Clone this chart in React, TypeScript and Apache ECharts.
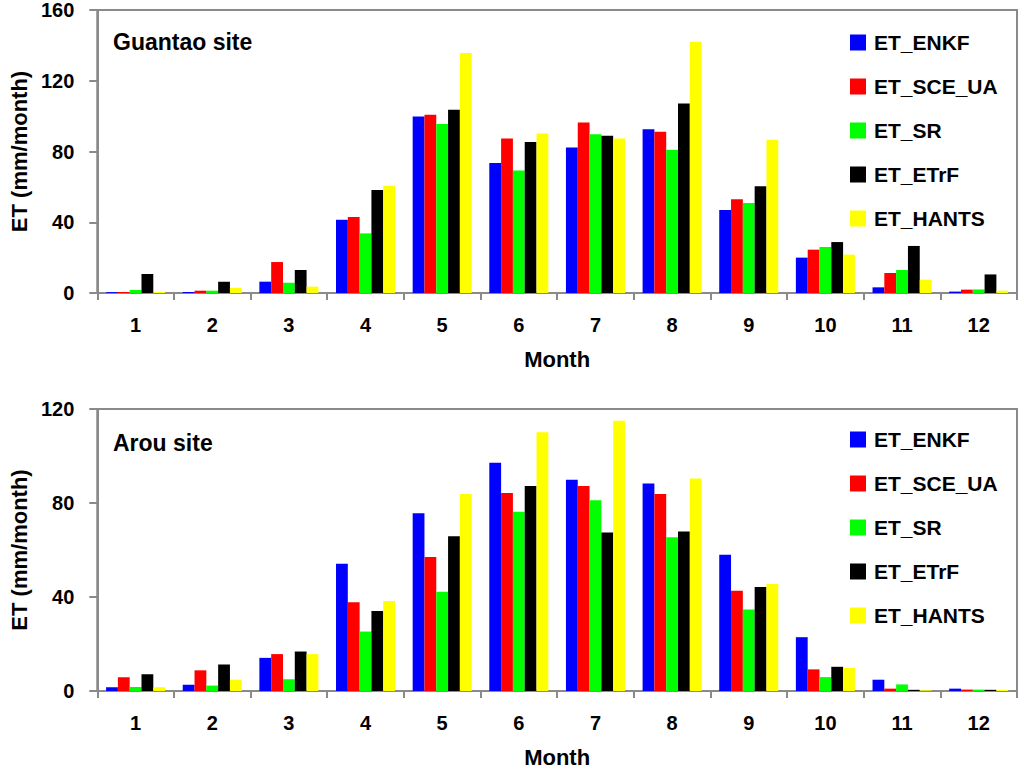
import React, { useEffect, useRef } from "react";
import * as echarts from "echarts";

const months = ["1", "2", "3", "4", "5", "6", "7", "8", "9", "10", "11", "12"];
const seriesNames = ["ET_ENKF", "ET_SCE_UA", "ET_SR", "ET_ETrF", "ET_HANTS"];
const seriesColors = ["#0000FF", "#FF0000", "#00FF00", "#000000", "#FFFF00"];

// Guantao site (mm/month)
const guantaoENKF = [0.5, 0.5, 6.4, 41.4, 99.8, 73.5, 82.3, 92.6, 46.9, 20, 3.2, 0.8];
const guantaoSCEUA = [0.5, 1.3, 17.5, 43, 100.8, 87.4, 96.4, 91.2, 53, 24.5, 11.3, 1.9];
const guantaoSR = [1.7, 1.3, 5.8, 33.7, 95.5, 69.3, 89.7, 81, 50.9, 26, 13, 2];
const guantaoETrF = [10.7, 6.4, 13, 58.2, 103.6, 85.4, 88.9, 107.2, 60.3, 28.8, 26.6, 10.5];
const guantaoHANTS = [0.5, 2.8, 3.6, 60.6, 135.7, 90.2, 87.4, 142, 86.7, 21.7, 7.5, 1.3];

// Arou site (mm/month)
const arouENKF = [1.6, 2.7, 14.1, 54.2, 75.6, 97.1, 89.9, 88.3, 58, 22.9, 4.8, 1];
const arouSCEUA = [5.9, 8.8, 15.7, 37.8, 57, 84.3, 87.2, 83.8, 42.7, 9.2, 1, 0.6];
const arouSR = [1.7, 2.3, 5, 25.3, 42.2, 76.3, 81.2, 65.4, 34.7, 5.9, 2.8, 0.6];
const arouETrF = [7.1, 11.3, 16.8, 34, 65.8, 87.2, 67.4, 67.9, 44.3, 10.3, 0.5, 0.5];
const arouHANTS = [1.6, 4.8, 15.7, 38.3, 83.8, 110.1, 115, 90.4, 45.5, 9.8, 0.3, 0.5];

const guantaoData = [guantaoENKF, guantaoSCEUA, guantaoSR, guantaoETrF, guantaoHANTS];
const arouData = [arouENKF, arouSCEUA, arouSR, arouETrF, arouHANTS];

const topTicks = { min: 0, max: 160, interval: 40 };
const bottomTicks = { min: 0, max: 120, interval: 40 };

const FONT = "'Liberation Sans', Arial, sans-serif";
const AXIS_GRAY = "#8a8a8a";

export default function App() {
  const ref = useRef<HTMLDivElement>(null);

  useEffect(() => {
    if (!ref.current) return;
    const chart = echarts.init(ref.current, undefined, { renderer: "svg" });

    const makeX = (gridIndex: number) => ({
      type: "category",
      gridIndex,
      data: months,
      boundaryGap: true,
      axisLine: { show: true, lineStyle: { color: AXIS_GRAY, width: 2 } },
      axisTick: { show: true, length: 7, lineStyle: { color: AXIS_GRAY, width: 2 } },
      axisLabel: { color: "#000", fontSize: 20, fontWeight: "bold", fontFamily: FONT, margin: 22 },
      name: "Month",
      nameLocation: "middle",
      nameGap: 55,
      nameTextStyle: { color: "#000", fontSize: 22, fontWeight: "bold", fontFamily: FONT },
      splitLine: { show: false },
    });

    const makeY = (gridIndex: number, t: { min: number; max: number; interval: number }) => ({
      type: "value",
      gridIndex,
      min: t.min,
      max: t.max,
      interval: t.interval,
      axisLine: { show: true, lineStyle: { color: AXIS_GRAY, width: 2 } },
      axisTick: { show: true, length: 8, lineStyle: { color: AXIS_GRAY, width: 2 } },
      axisLabel: { color: "#000", fontSize: 20, fontWeight: "bold", fontFamily: FONT, margin: 23 },
      splitLine: { show: false },
      name: "ET (mm/month)",
      nameLocation: "middle",
      nameGap: 67,
      nameRotate: 90,
      nameTextStyle: { color: "#000", fontSize: 22, fontWeight: "bold", fontFamily: FONT },
    });

    const makeSeries = (data: number[][], idx: number) =>
      seriesNames.map((name, i) => ({
        name,
        type: "bar",
        xAxisIndex: idx,
        yAxisIndex: idx,
        data: data[i],
        barGap: "0%",
        barCategoryGap: "23%",
        itemStyle: { color: seriesColors[i] },
      }));

    const legendBase = {
      orient: "vertical",
      left: 845,
      icon: "rect",
      itemWidth: 16,
      itemHeight: 16,
      itemGap: 23,
      data: seriesNames,
      selectedMode: false,
      textStyle: { color: "#000", fontSize: 21, fontWeight: "bold", fontFamily: FONT, padding: [0, 0, 0, 3] },
    };

    chart.setOption({
      animation: false,
      backgroundColor: "#fff",
      color: seriesColors,
      title: [
        {
          text: "Guantao site",
          left: 113,
          top: 30,
          padding: 0,
          textStyle: { color: "#000", fontSize: 23, fontWeight: "bold", fontFamily: FONT },
        },
        {
          text: "Arou site",
          left: 113,
          top: 431,
          padding: 0,
          textStyle: { color: "#000", fontSize: 23, fontWeight: "bold", fontFamily: FONT },
        },
      ],
      legend: [
        { ...legendBase, top: 27 },
        { ...legendBase, top: 424 },
      ],
      grid: [
        { left: 96, top: 10, width: 921, height: 283, show: true, borderColor: AXIS_GRAY, borderWidth: 2, backgroundColor: "transparent" },
        { left: 96, top: 409, width: 921, height: 282, show: true, borderColor: AXIS_GRAY, borderWidth: 2, backgroundColor: "transparent" },
      ],
      xAxis: [makeX(0), makeX(1)],
      yAxis: [makeY(0, topTicks), makeY(1, bottomTicks)],
      series: [...makeSeries(guantaoData, 0), ...makeSeries(arouData, 1)],
    });

    return () => chart.dispose();
  }, []);

  return (
    <div
      ref={ref}
      style={{ position: "fixed", left: 0, top: 0, width: 1024, height: 771, background: "#fff" }}
    />
  );
}
